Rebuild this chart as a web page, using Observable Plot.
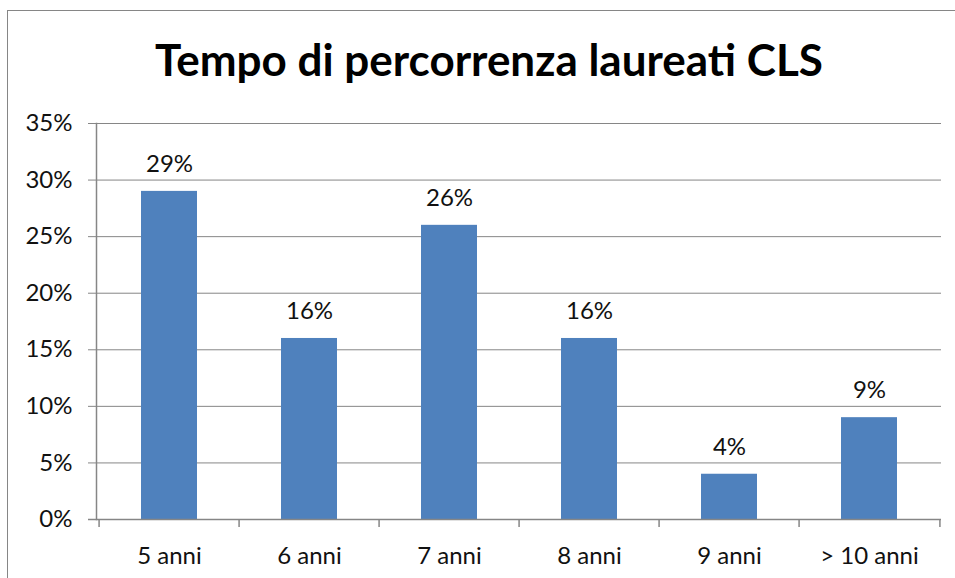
<!DOCTYPE html>
<html>
<head>
<meta charset="utf-8">
<script src="https://cdn.jsdelivr.net/npm/d3@7"></script>
<script src="https://cdn.jsdelivr.net/npm/@observablehq/plot@0.6"></script>
<style>
  html, body { margin: 0; padding: 0; background: #fff; }
  #wrap { position: relative; width: 955px; height: 578px; overflow: hidden; font-family: Lato, "Open Sans", sans-serif; }
  #border { position: absolute; left: 7px; top: 10px; width: 1000px; height: 700px; border: 1.5px solid #868686; box-sizing: border-box; }
  #title { position: absolute; left: 0; width: 978px; top: 33px; text-align: center; font-size: 44px; line-height: 52px; font-weight: bold; color: #000; }
  #chart { position: absolute; left: 0; top: 0; }
</style>
</head>
<body>
<div id="wrap">
  <div id="border"></div>
  <div id="chart"></div>
  <div id="title">Tempo di percorrenza laureati CLS</div>
</div>
<script>
const categories = ["5 anni", "6 anni", "7 anni", "8 anni", "9 anni", "> 10 anni"];
const values = [0.29, 0.16, 0.26, 0.16, 0.04, 0.09];
const yTicks = [0, 0.05, 0.10, 0.15, 0.20, 0.25, 0.30, 0.35];

const data = categories.map((c, i) => ({cat: c, value: values[i]}));
const pct = d3.format(".0%");

const W = 955, H = 578;
const mL = 96, mR = 14, mT = 123, mB = 59;
const frameH = H - mT - mB;
const step = (W - mL - mR) / categories.length;
const grey = "#868686";
const fs = 24;

const chart = Plot.plot({
  width: W,
  height: H,
  marginLeft: mL,
  marginRight: mR,
  marginTop: mT,
  marginBottom: mB,
  style: {fontFamily: "Lato, 'Open Sans', sans-serif", fontSize: fs + "px", color: "#111", background: "transparent"},
  x: {domain: categories, paddingInner: 0.6, paddingOuter: 0.3, align: 0.5, label: null},
  y: {domain: [0, 0.35], label: null},
  marks: [
    Plot.gridY(yTicks, {stroke: grey, strokeOpacity: 1, strokeWidth: 1}),
    Plot.axisY(yTicks, {tickSize: 8, tickPadding: 16, tickFormat: pct, stroke: grey, strokeWidth: 1, fontSize: fs, label: null}),
    Plot.axisX({tickSize: 0, tickPadding: 27, fontSize: fs, label: null}),
    Plot.barY(data, {x: "cat", y: "value", fill: "#4F81BD"}),
    Plot.ruleX(categories, {x: d => d, dx: -step / 2, stroke: grey, strokeWidth: 1.5, insetTop: frameH, insetBottom: -8}),
    Plot.ruleX([categories[categories.length - 1]], {x: d => d, dx: step / 2, stroke: grey, strokeWidth: 1.5, insetTop: frameH, insetBottom: -8}),
    Plot.ruleY([0], {stroke: grey, strokeWidth: 1.5, insetLeft: -8}),
    Plot.frame({anchor: "left", stroke: grey, strokeWidth: 1.5}),
    Plot.text(data, {x: "cat", y: "value", text: d => pct(d.value), dy: -27, fontSize: fs, fill: "#111"})
  ]
});
document.getElementById("chart").appendChild(chart);
</script>
</body>
</html>
